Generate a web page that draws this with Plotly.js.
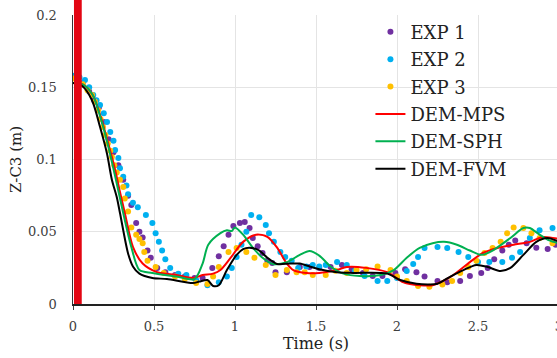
<!DOCTYPE html>
<html>
<head>
<meta charset="utf-8">
<script src="https://cdn.plot.ly/plotly-3.0.1.min.js"></script>
<style>html,body{margin:0;padding:0;overflow:hidden;background:#fff;}#chart{width:562px;height:358px;}</style>
</head>
<body>
<div id="chart"></div>
<script>
// ---- data ----
const exp1X = [0.02,0.06,0.1,0.13,0.16,0.19,0.22,0.25,0.28,0.31,0.34,0.36,0.39,0.41,0.43,0.46,0.48,0.52,0.57,0.63,0.69,0.75,0.8,0.86,0.9,0.93,0.96,0.99,1.03,1.06,1.09,1.11,1.14,1.17,1.2,1.23,1.25,1.32,1.4,1.46,1.52,1.59,1.66,1.72,1.79,1.85,1.91,1.99,2.05,2.12,2.17,2.25,2.31,2.39,2.45,2.52,2.56,2.6,2.65,2.69,2.73,2.8,2.86,2.93,2.98];
const exp1Y = [0.156,0.153,0.147,0.141,0.136,0.126,0.114,0.105,0.096,0.086,0.075,0.0685,0.056,0.05,0.046,0.037,0.032,0.025,0.022,0.02,0.019,0.018,0.018,0.025,0.033,0.04,0.048,0.054,0.056,0.0567,0.0526,0.0457,0.04,0.0353,0.03,0.0284,0.022,0.022,0.0256,0.0256,0.025,0.0256,0.027,0.024,0.0215,0.0194,0.0194,0.0215,0.024,0.022,0.019,0.016,0.015,0.016,0.0194,0.0215,0.025,0.031,0.037,0.041,0.044,0.042,0.039,0.038,0.041];

const exp2X = [0.0,0.04,0.074,0.1,0.125,0.145,0.167,0.19,0.21,0.23,0.25,0.26,0.28,0.29,0.31,0.33,0.34,0.37,0.4,0.45,0.49,0.51,0.53,0.55,0.57,0.6,0.65,0.7,0.76,0.83,0.9,0.95,0.98,1.01,1.04,1.07,1.1,1.15,1.19,1.21,1.24,1.28,1.31,1.35,1.39,1.44,1.48,1.52,1.56,1.63,1.69,1.74,1.8,1.88,1.94,2.0,2.06,2.1,2.13,2.17,2.25,2.31,2.38,2.44,2.5,2.57,2.65,2.71,2.76,2.82,2.88,2.96];
const exp2Y = [0.158,0.157,0.155,0.15,0.1446,0.141,0.1377,0.132,0.126,0.119,0.113,0.1066,0.101,0.094,0.088,0.082,0.076,0.07,0.067,0.0616,0.056,0.049,0.043,0.037,0.031,0.025,0.021,0.02,0.0166,0.013,0.015,0.019,0.025,0.0325,0.041,0.05,0.0616,0.06,0.0547,0.049,0.043,0.036,0.0325,0.03,0.025,0.026,0.027,0.026,0.027,0.029,0.027,0.0228,0.0194,0.016,0.016,0.018,0.0228,0.0277,0.0325,0.0388,0.0394,0.0388,0.036,0.0325,0.029,0.029,0.029,0.032,0.036,0.0457,0.051,0.0526];

const exp3X = [0.0,0.06,0.09,0.117,0.135,0.155,0.17,0.185,0.2,0.215,0.23,0.24,0.255,0.27,0.29,0.31,0.32,0.34,0.36,0.39,0.41,0.43,0.44,0.46,0.51,0.56,0.63,0.69,0.76,0.83,0.865,0.9,0.96,1.01,1.07,1.12,1.19,1.25,1.32,1.38,1.43,1.48,1.56,1.62,1.69,1.75,1.81,1.88,1.96,2.0,2.06,2.13,2.2,2.28,2.34,2.39,2.44,2.49,2.54,2.59,2.64,2.68,2.72,2.78,2.83,2.88,2.96];
const exp3Y = [0.156,0.152,0.148,0.1446,0.14,0.134,0.128,0.1225,0.117,0.111,0.106,0.1017,0.096,0.091,0.086,0.081,0.073,0.064,0.053,0.048,0.045,0.042,0.036,0.03,0.0256,0.0215,0.019,0.0173,0.0145,0.0138,0.019,0.0256,0.036,0.0388,0.036,0.032,0.027,0.02,0.0235,0.022,0.022,0.02,0.02,0.023,0.0215,0.0235,0.024,0.026,0.0235,0.019,0.016,0.0125,0.012,0.0135,0.016,0.0215,0.0256,0.03,0.0353,0.0388,0.043,0.049,0.053,0.0526,0.049,0.0457,0.042];

const mpsX = [0.0,0.06,0.12,0.17,0.22,0.26,0.285,0.32,0.37,0.43,0.52,0.64,0.74,0.8,0.865,0.91,0.97,1.05,1.13,1.2,1.26,1.32,1.36,1.44,1.52,1.63,1.69,1.81,1.94,2.04,2.14,2.22,2.33,2.45,2.53,2.62,2.72,2.82,2.9,3.0];
const mpsY = [0.153,0.152,0.145,0.13,0.11,0.093,0.08,0.063,0.0395,0.028,0.022,0.02,0.018,0.02,0.021,0.0235,0.0315,0.043,0.048,0.0465,0.039,0.028,0.0235,0.0215,0.0215,0.0235,0.0256,0.025,0.022,0.015,0.013,0.013,0.0187,0.029,0.0353,0.0388,0.041,0.043,0.0464,0.045];

const sphX = [0.0,0.06,0.12,0.17,0.22,0.265,0.31,0.36,0.41,0.49,0.64,0.75,0.8,0.835,0.91,0.95,0.98,1.0,1.05,1.11,1.17,1.235,1.32,1.4,1.46,1.52,1.59,1.67,1.77,1.9,1.98,2.06,2.14,2.22,2.29,2.37,2.45,2.52,2.59,2.7,2.78,2.82,2.88,2.94,3.0];
const sphY = [0.153,0.152,0.145,0.129,0.108,0.086,0.063,0.0395,0.0235,0.0215,0.019,0.0173,0.028,0.041,0.049,0.051,0.0505,0.053,0.048,0.039,0.032,0.0277,0.029,0.034,0.0367,0.0335,0.026,0.021,0.0194,0.02,0.0235,0.032,0.0388,0.042,0.043,0.041,0.037,0.034,0.037,0.0457,0.0526,0.0526,0.048,0.044,0.042];

const fvmX = [0.0,0.055,0.117,0.167,0.21,0.24,0.27,0.29,0.34,0.37,0.41,0.49,0.58,0.74,0.78,0.83,0.865,0.9,0.95,1.01,1.05,1.09,1.15,1.2,1.26,1.34,1.4,1.46,1.52,1.63,1.73,1.94,2.02,2.12,2.2,2.25,2.33,2.41,2.49,2.56,2.64,2.7,2.78,2.86,2.93,3.0];
const fvmY = [0.153,0.151,0.141,0.1225,0.104,0.086,0.074,0.063,0.035,0.026,0.021,0.018,0.0173,0.0145,0.0155,0.0166,0.0125,0.013,0.0235,0.034,0.038,0.039,0.037,0.032,0.0277,0.028,0.028,0.026,0.024,0.022,0.0215,0.021,0.0166,0.014,0.0135,0.014,0.019,0.0235,0.027,0.0256,0.0228,0.025,0.034,0.043,0.0457,0.043];

const xTicks = [0,0.5,1,1.5,2,2.5,3];
const xTickText = ['0','0.5','1','1.5','2','2.5','3'];
const yTicks = [0,0.05,0.1,0.15,0.2];
const yTickText = ['0','0.05','0.1','0.15','0.2'];

const FONT = 'DejaVu Serif, Liberation Serif, serif';

function dots(name, x, y, color) {
  return {type:'scatter', mode:'markers', name:name, x:x, y:y,
    marker:{color:color, size:6, line:{width:0}}, legendgroup:name};
}
function line(name, x, y, color) {
  return {type:'scatter', mode:'lines', name:name, x:x, y:y,
    line:{color:color, width:2, shape:'spline', smoothing:0.8}, legendgroup:name};
}

const data = [
  dots('EXP 1', exp1X, exp1Y, '#7030A0'),
  dots('EXP 2', exp2X, exp2Y, '#00B0F0'),
  dots('EXP 3', exp3X, exp3Y, '#FFC000'),
  line('DEM-MPS', mpsX, mpsY, '#FF0000'),
  line('DEM-SPH', sphX, sphY, '#00B050'),
  line('DEM-FVM', fvmX, fvmY, '#000000')
];

const layout = {
  width:562, height:358,
  margin:{l:73, r:3, t:15, b:54},
  paper_bgcolor:'#ffffff', plot_bgcolor:'#ffffff',
  font:{family:FONT, color:'#404040', size:13},
  showlegend:true,
  legend:{x:0.612, y:1.005, xanchor:'left', yanchor:'top', bgcolor:'rgba(0,0,0,0)',
    font:{family:FONT, size:18, color:'#222222'}, tracegroupgap:1, traceorder:'grouped'},
  xaxis:{range:[0,3], tickvals:xTicks, ticktext:xTickText, showgrid:true, gridcolor:'#e4e4e4', gridwidth:1,
    zeroline:false, showline:true, linecolor:'#222222', linewidth:1.5, ticks:'outside', ticklen:4, tickcolor:'#444444',
    ticklabelstandoff:6, ticklabeloverflow:'allow', tickfont:{family:FONT, size:13, color:'#404040'},
    title:{text:'Time (s)', font:{family:FONT, size:16, color:'#222222'}, standoff:4}},
  yaxis:{range:[0,0.2], tickvals:yTicks, ticktext:yTickText, showgrid:true, gridcolor:'#e4e4e4', gridwidth:1,
    zeroline:false, showline:true, linecolor:'#333333', linewidth:1.5, ticks:'', ticklabelstandoff:12,
    tickfont:{family:FONT, size:13, color:'#404040'},
    title:{text:'Z-C3 (m)', font:{family:FONT, size:15, color:'#222222'}, standoff:2}},
  shapes:[{type:'rect', xref:'x', yref:'paper', x0:0.006, x1:0.054, y0:0, y1:1.06,
    fillcolor:'#E30613', line:{width:0}, layer:'above'}]
};

Plotly.newPlot('chart', data, layout, {displayModeBar:false, staticPlot:true});
</script>
</body>
</html>
